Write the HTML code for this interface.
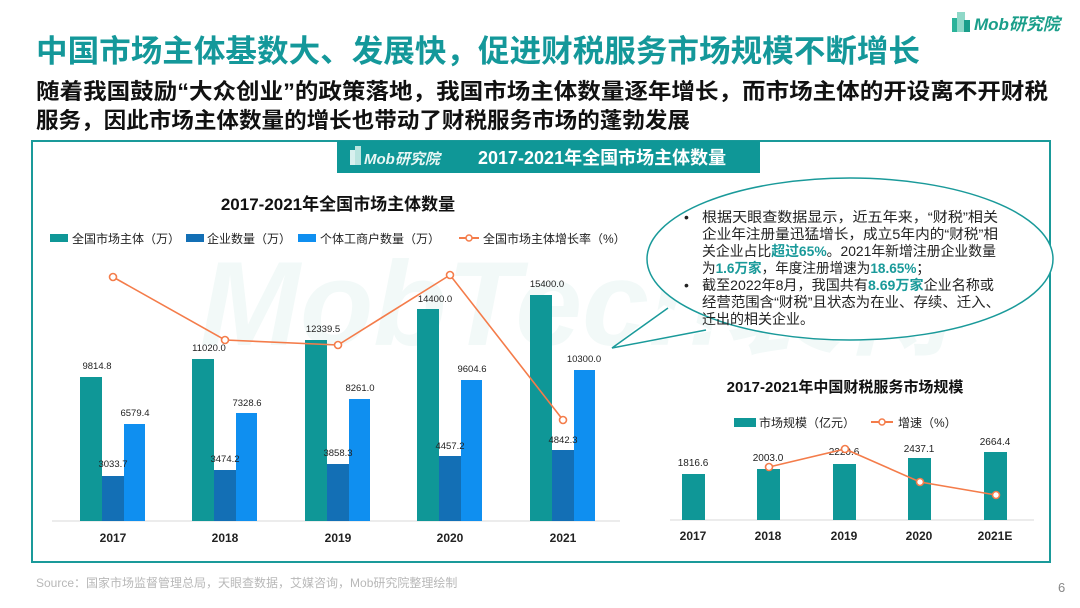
<!DOCTYPE html>
<html><head><meta charset="utf-8"><style>
body{margin:0;background:#fff}
svg{display:block;font-family:"Liberation Sans","Noto Sans CJK SC",sans-serif}
</style></head><body>
<svg width="1080" height="608" viewBox="0 0 1080 608" xmlns="http://www.w3.org/2000/svg">
<g transform="translate(952,10)">
<rect x="0" y="8" width="6" height="14" fill="#2bb39a"/><rect x="5" y="2" width="8" height="20" fill="#8fd8c8"/><rect x="12" y="10" width="6" height="12" fill="#1a9e8a"/>
<text x="22" y="20" font-size="17" font-weight="bold" font-style="italic" fill="#1a9e8a">Mob研究院</text>
</g>
<text x="36" y="62" font-size="31" font-weight="bold" fill="#14989a" textLength="884" lengthAdjust="spacingAndGlyphs">中国市场主体基数大、发展快，促进财税服务市场规模不断增长</text>
<text x="36" y="99" font-size="22" font-weight="bold" fill="#111" textLength="1012" lengthAdjust="spacingAndGlyphs">随着我国鼓励“大众创业”的政策落地，我国市场主体数量逐年增长，而市场主体的开设离不开财税</text>
<text x="36" y="128" font-size="22" font-weight="bold" fill="#111" textLength="654" lengthAdjust="spacingAndGlyphs">服务，因此市场主体数量的增长也带动了财税服务市场的蓬勃发展</text>

<rect x="32" y="141" width="1018" height="421" fill="none" stroke="#1a9a9a" stroke-width="2"/>
<rect x="337" y="141" width="423" height="32" fill="#0f9797"/>
<rect x="350" y="150" width="5" height="15" fill="#d8f0ee"/><rect x="355" y="146" width="6" height="19" fill="#b9e4df"/>
<text x="364" y="164" font-size="15" font-weight="bold" font-style="italic" fill="#e8f6f4">Mob研究院</text>
<text x="478" y="164" font-size="18" font-weight="bold" fill="#fff">2017-2021年全国市场主体数量</text>

<text x="200" y="345" font-size="120" font-weight="bold" font-style="italic" fill="#f2f9f8">MobTech袤博</text>

<text x="338" y="210" font-size="17" font-weight="bold" fill="#111" text-anchor="middle">2017-2021年全国市场主体数量</text>
<g font-size="12" fill="#222">
<rect x="50" y="234" width="18" height="8" fill="#0f9797"/><text x="72" y="243">全国市场主体（万）</text>
<rect x="186" y="234" width="18" height="8" fill="#136fb5"/><text x="207" y="243">企业数量（万）</text>
<rect x="298" y="234" width="18" height="8" fill="#0f8ff0"/><text x="320" y="243">个体工商户数量（万）</text>
<line x1="459" y1="238" x2="479" y2="238" stroke="#f47c4a" stroke-width="2"/><circle cx="469" cy="238" r="3" fill="#fff" stroke="#f47c4a" stroke-width="1.5"/><text x="483" y="243">全国市场主体增长率（%）</text>
</g>
<line x1="52" y1="521" x2="620" y2="521" stroke="#d8d8d8"/>
<g>
<rect x="80" y="377" width="22" height="144" fill="#0f9797"/><rect x="102" y="476" width="22" height="45" fill="#136fb5"/><rect x="124" y="424" width="21" height="97" fill="#0f8ff0"/>
<rect x="192" y="359" width="22" height="162" fill="#0f9797"/><rect x="214" y="470" width="22" height="51" fill="#136fb5"/><rect x="236" y="413" width="21" height="108" fill="#0f8ff0"/>
<rect x="305" y="340" width="22" height="181" fill="#0f9797"/><rect x="327" y="464" width="22" height="57" fill="#136fb5"/><rect x="349" y="399" width="21" height="122" fill="#0f8ff0"/>
<rect x="417" y="309" width="22" height="212" fill="#0f9797"/><rect x="439" y="456" width="22" height="65" fill="#136fb5"/><rect x="461" y="380" width="21" height="141" fill="#0f8ff0"/>
<rect x="530" y="295" width="22" height="226" fill="#0f9797"/><rect x="552" y="450" width="22" height="71" fill="#136fb5"/><rect x="574" y="370" width="21" height="151" fill="#0f8ff0"/>
</g>
<g font-size="9.5" fill="#222" text-anchor="middle">
<text x="97" y="369">9814.8</text><text x="113" y="467">3033.7</text><text x="135" y="416">6579.4</text>
<text x="209" y="351">11020.0</text><text x="225" y="462">3474.2</text><text x="247" y="406">7328.6</text>
<text x="323" y="332">12339.5</text><text x="338" y="456">3858.3</text><text x="360" y="391">8261.0</text>
<text x="435" y="302">14400.0</text><text x="450" y="449">4457.2</text><text x="472" y="372">9604.6</text>
<text x="547" y="287">15400.0</text><text x="563" y="443">4842.3</text><text x="584" y="362">10300.0</text>
</g>
<polyline points="113,277 225,340 338,345 450,275 563,420" fill="none" stroke="#f47c4a" stroke-width="1.6"/>
<g fill="#fff" stroke="#f47c4a" stroke-width="1.6">
<circle cx="113" cy="277" r="3.5"/><circle cx="225" cy="340" r="3.5"/><circle cx="338" cy="345" r="3.5"/><circle cx="450" cy="275" r="3.5"/><circle cx="563" cy="420" r="3.5"/>
</g>
<g font-size="12" font-weight="bold" fill="#222" text-anchor="middle">
<text x="113" y="542">2017</text><text x="225" y="542">2018</text><text x="338" y="542">2019</text><text x="450" y="542">2020</text><text x="563" y="542">2021</text>
</g>

<!-- callout -->
<ellipse cx="850" cy="259" rx="203" ry="81" fill="#fff" stroke="#1a9a9a" stroke-width="1.5"/>
<polygon points="664,305 712,331 612,348" fill="#fff"/>
<polyline points="668,308 612,348 706,330" fill="none" stroke="#1a9a9a" stroke-width="1.5"/>
<g font-size="14" fill="#222">
<text x="684" y="222">•</text><text x="702" y="222" textLength="296" lengthAdjust="spacingAndGlyphs">根据天眼查数据显示，近五年来，“财税”相关</text>
<text x="702" y="239" textLength="296" lengthAdjust="spacingAndGlyphs">企业年注册量迅猛增长，成立5年内的“财税”相</text>
<text x="702" y="256" textLength="294" lengthAdjust="spacingAndGlyphs">关企业占比<tspan fill="#1a9a9a" font-weight="bold">超过65%</tspan>。2021年新增注册企业数量</text>
<text x="702" y="273" textLength="228" lengthAdjust="spacingAndGlyphs">为<tspan fill="#1a9a9a" font-weight="bold">1.6万家</tspan>，年度注册增速为<tspan fill="#1a9a9a" font-weight="bold">18.65%</tspan>；</text>
<text x="684" y="290">•</text><text x="702" y="290" textLength="292" lengthAdjust="spacingAndGlyphs">截至2022年8月，我国共有<tspan fill="#1a9a9a" font-weight="bold">8.69万家</tspan>企业名称或</text>
<text x="702" y="307" textLength="298" lengthAdjust="spacingAndGlyphs">经营范围含“财税”且状态为在业、存续、迁入、</text>
<text x="702" y="324">迁出的相关企业。</text>
</g>

<text x="845" y="392" font-size="15" font-weight="bold" fill="#111" text-anchor="middle">2017-2021年中国财税服务市场规模</text>
<rect x="734" y="418" width="22" height="9" fill="#0f9797"/><text x="759" y="427" font-size="12" fill="#222">市场规模（亿元）</text>
<line x1="871" y1="422" x2="893" y2="422" stroke="#f47c4a" stroke-width="2"/><circle cx="882" cy="422" r="3" fill="#fff" stroke="#f47c4a" stroke-width="1.5"/><text x="898" y="427" font-size="12" fill="#222">增速（%）</text>
<line x1="670" y1="520" x2="1034" y2="520" stroke="#d8d8d8"/>
<g fill="#0f9797">
<rect x="682" y="474" width="23" height="46"/><rect x="757" y="469" width="23" height="51"/><rect x="833" y="464" width="23" height="56"/><rect x="908" y="458" width="23" height="62"/><rect x="984" y="452" width="23" height="68"/>
</g>
<g font-size="10" fill="#222" text-anchor="middle">
<text x="693" y="466">1816.6</text><text x="768" y="461">2003.0</text><text x="844" y="455">2220.6</text><text x="919" y="452">2437.1</text><text x="995" y="445">2664.4</text>
</g>
<polyline points="769,467 845,449 920,482 996,495" fill="none" stroke="#f47c4a" stroke-width="1.6"/>
<g fill="#fff" stroke="#f47c4a" stroke-width="1.6">
<circle cx="769" cy="467" r="3.5"/><circle cx="845" cy="449" r="3.5"/><circle cx="920" cy="482" r="3.5"/><circle cx="996" cy="495" r="3.5"/>
</g>
<g font-size="12" font-weight="bold" fill="#222" text-anchor="middle">
<text x="693" y="540">2017</text><text x="768" y="540">2018</text><text x="844" y="540">2019</text><text x="919" y="540">2020</text><text x="995" y="540">2021E</text>
</g>

<text x="36" y="587" font-size="12" fill="#b8b8b8">Source：国家市场监督管理总局，天眼查数据，艾媒咨询，Mob研究院整理绘制</text>
<text x="1058" y="592" font-size="13" fill="#888">6</text>
</svg>
</body></html>
